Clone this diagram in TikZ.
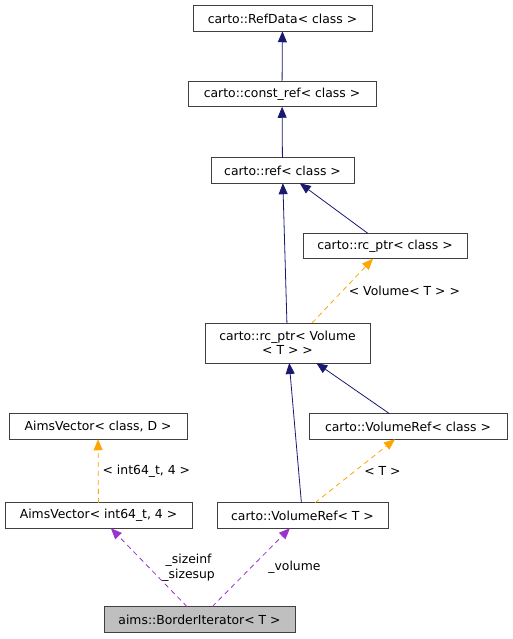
\documentclass[tikz,border=0pt]{standalone}
\usepackage{fontspec}
\setmainfont{DejaVu Sans}
\usetikzlibrary{arrows.meta}

\definecolor{boxline}{HTML}{404040}
\definecolor{inhcol}{HTML}{191970}
\definecolor{tplcol}{HTML}{FFA500}
\definecolor{usecol}{HTML}{9A32CD}

\begin{document}
\begin{tikzpicture}[
x=1pt, y=-1pt,
    X/.style = {rectangle, draw=boxline, line width=0.9pt,% styles of class boxes
                minimum height=25.5pt, inner sep=0pt,
                outer sep=0pt, font=\fontsize{12.4}{14.5}\selectfont},
    Y/.style = {X, fill=black!25},% the documented class
  inh/.style = {draw=inhcol, line width=0.8pt,
                -{Triangle[length=11pt,width=9pt]}},
  tpl/.style = {draw=tplcol, line width=0.8pt, dash pattern=on 5pt off 4pt,
                -{Triangle[length=11pt,width=9pt]}},
usage/.style = {draw=usecol, line width=0.8pt, dash pattern=on 5pt off 4pt,
                -{Triangle[length=11pt,width=9pt]}},
  lbl/.style = {inner sep=1pt, align=center,
                font=\fontsize{12.4}{14.5}\selectfont},
                        ]
\useasboundingbox (0,0) rectangle (512,639);
% <-- class boxes
\node[X, minimum width=179pt] (refdata)  at (282.5,18.5)  {carto::RefData< class >};
\node[X, minimum width=188pt] (constref) at (282,94)      {carto::const\_ref< class >};
\node[X, minimum width=143pt] (ref)      at (282.5,170.5) {carto::ref< class >};
\node[X, minimum width=164pt] (rcclass)  at (385,246)     {carto::rc\_ptr< class >};
\node[X, minimum width=165pt, minimum height=40pt, align=center]
                              (rcvol)    at (287.5,343)   {carto::rc\_ptr< Volume\\< T > >};
\node[X, minimum width=178pt] (avclass)  at (98,426.5)    {AimsVector< class, D >};
\node[X, minimum width=198pt] (vrclass)  at (408,426.5)   {carto::VolumeRef< class >};
\node[X, minimum width=187pt] (avint)    at (98.5,515.5)  {AimsVector< int64\_t, 4 >};
\node[X, minimum width=171pt] (vrt)      at (302.5,515.5) {carto::VolumeRef< T >};
\node[Y, minimum width=191pt] (border)   at (199.5,619.5) {aims::BorderIterator< T >};
% <-- inheritance
\draw[inh] (constref) -- (refdata);
\draw[inh] (ref) -- (constref);
\draw[inh] (rcvol) -- (ref);
\draw[inh] (rcclass) -- (ref);
\draw[inh] (vrclass) -- (rcvol);
\draw[inh] (vrt) -- (rcvol);
% <-- template instances
\draw[tpl] ([xshift=24.5pt]rcvol.north) -- node[lbl, right=5pt] {< Volume< T > >}
           ([xshift=-12pt]rcclass.south);
\draw[tpl] ([xshift=12.5pt]vrt.north) -- node[lbl, right=8pt] {< T >}
           ([xshift=-13pt]vrclass.south);
\draw[tpl] (avint) -- node[lbl, right=3pt] {< int64\_t, 4 >} (avclass);
% <-- members
\draw[usage] (border) -- node[lbl, right=12pt] {\_sizeinf\\\_sizesup} (avint);
\draw[usage] (border) -- node[lbl, right=16pt] {\_volume} (vrt);
\end{tikzpicture}
\end{document}
